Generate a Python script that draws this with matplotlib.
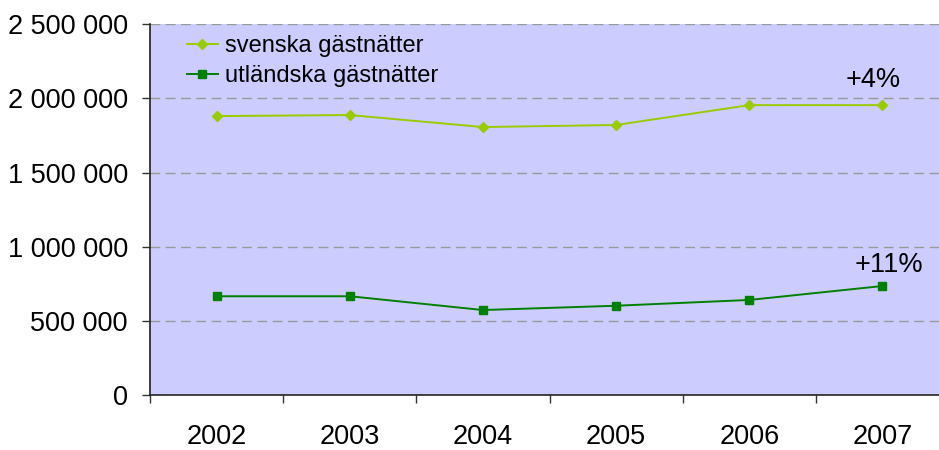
import matplotlib
matplotlib.use("Agg")
import matplotlib.pyplot as plt
from matplotlib.ticker import FuncFormatter, MultipleLocator

years = ["2002", "2003", "2004", "2005", "2006", "2007"]
svenska = [1881000, 1888000, 1807000, 1821000, 1955000, 1955000]
utlandska = [666000, 666000, 573000, 602000, 641000, 735000]
labels = ["svenska gästnätter", "utländska gästnätter"]
notes = ["+4%", "+11%"]

plt.rcParams["font.family"] = ["Liberation Sans", "DejaVu Sans"]

fig = plt.figure(figsize=(9.39, 4.5), dpi=100)
W, H = 939, 450
# plot area runs past the right edge of the picture, as in the original
ax = fig.add_axes([150 / W, 55 / H, 799 / W, (395 - 24.3) / H])
ax.set_facecolor("#CCCCFF")

xs = range(len(years))
ax.plot(xs, svenska, color="#99CC00", lw=1.4, marker="D", ms=5, label=labels[0])
ax.plot(xs, utlandska, color="#008000", lw=1.4, marker="s", ms=5.5, label=labels[1])

ax.set_xlim(-0.5, len(years) - 0.5)
ax.set_ylim(0, 2500000)
ax.yaxis.set_major_locator(MultipleLocator(500000))
ax.yaxis.set_major_formatter(FuncFormatter(lambda v, _: f"{int(v):,}".replace(",", " ")))
ax.grid(axis="y", color="#999999", ls=(0, (7, 4)), lw=1)
ax.set_axisbelow(True)

ax.set_xticks(list(xs))
ax.set_xticklabels(years)
ax.set_xticks([i - 0.5 for i in range(len(years) + 1)], minor=True)
ax.tick_params(axis="x", which="major", length=0, pad=21, labelsize=19.5)
ax.tick_params(axis="x", which="minor", length=6, width=1, color="#333333")
ax.tick_params(axis="y", length=6, width=1, pad=10, labelsize=19.5, color="#333333")

for s in ("top", "right"):
    ax.spines[s].set_visible(False)
for s in ("left", "bottom"):
    ax.spines[s].set_color("#222222")
    ax.spines[s].set_linewidth(1.2)

ax.text(4.93, 2124000, notes[0], fontsize=19.5, ha="center", va="center")
ax.text(5.05, 877000, notes[1], fontsize=19.5, ha="center", va="center")

ax.legend(loc="upper left", bbox_to_anchor=(0.033, 1.0), frameon=False, fontsize=17,
          handlelength=1.3, handletextpad=0.3, labelspacing=0.35, borderaxespad=0.05)

fig.savefig("out.png", dpi=100)
